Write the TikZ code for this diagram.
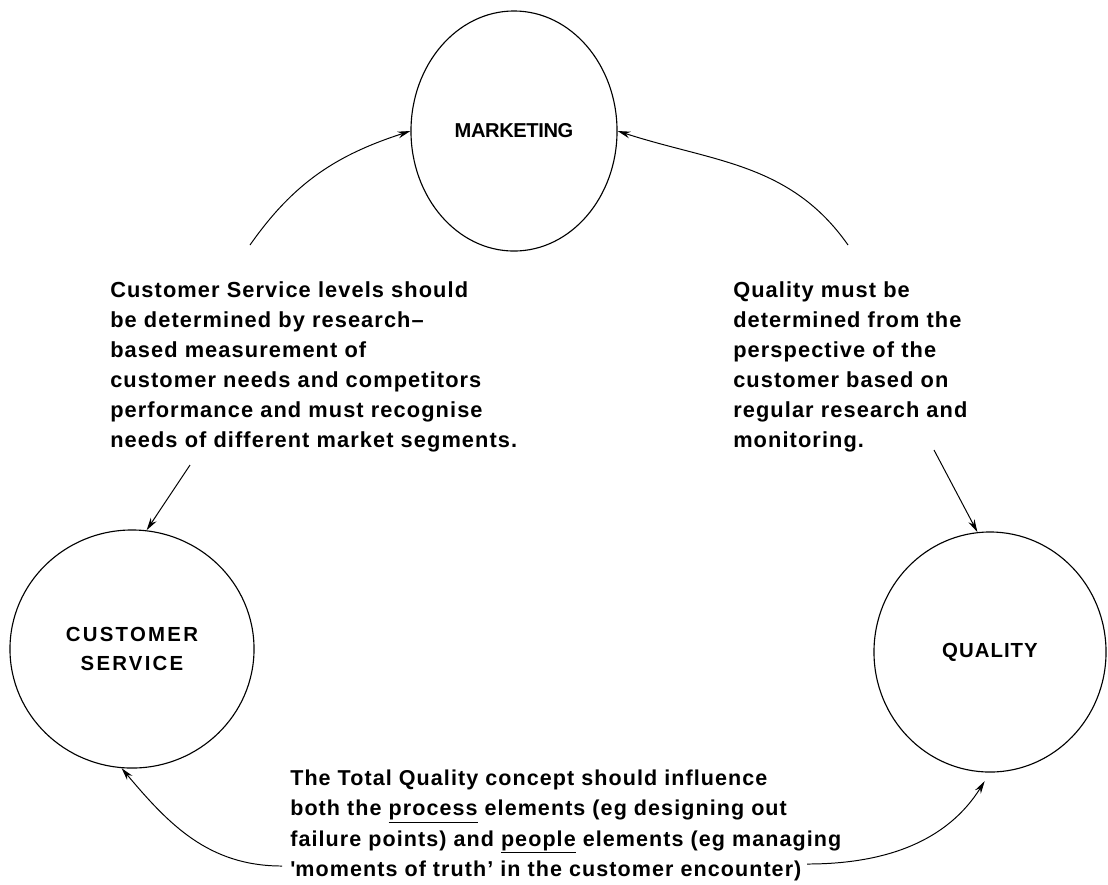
\documentclass[tikz,border=0pt]{standalone}
\usepackage{fontspec}
\setmainfont{Liberation Sans}
\newfontfamily\notefont[LetterSpace=5]{Liberation Sans Bold}
\usetikzlibrary{arrows.meta, positioning, shapes.geometric}

\begin{document}
\begin{tikzpicture}[x=0.025cm, y=0.025cm,
			topic/.style={ellipse, draw, line width=0.8pt, inner sep=0pt, align=center, font=\notefont\fontsize{14.5}{20}\selectfont},
			note/.style={anchor=north west, inner sep=0pt, align=left, font=\notefont\fontsize{15.5}{21.4}\selectfont},
			arrow/.style={-{Stealth[length=3.2mm, width=1.7mm]}, line width=0.7pt}
		]
		\useasboundingbox (0,0) rectangle (1108,-884);
		
		% the three circles
		\node[topic, minimum width=5.15cm, minimum height=6cm, font=\notefont\fontsize{14.3}{20}\selectfont\addfontfeature{LetterSpace=-2}] (mkt) at (514,-131) {MARKETING};
		\node[topic, minimum width=6.1cm, minimum height=5.95cm, font=\notefont\fontsize{14.5}{20}\selectfont\addfontfeature{LetterSpace=11}] (cs) at (132,-649) {CUSTOMER\\SERVICE};
		\node[topic, minimum width=5.8cm, minimum height=6cm] (ql) at (990,-652) {QUALITY};
		
		% notes between them
		\node[note] (cstext) at (110,-281) {Customer Service levels should\\be determined by research\textendash\\based measurement of\\customer needs and competitors\\performance and must recognise\\needs of different market segments.};
		\node[note] (qltext) at (733,-281) {Quality must be\\determined from the\\perspective of the\\customer based on\\regular research and\\monitoring.};
		\node[note, font=\notefont\fontsize{15.3}{21.4}\selectfont] (tqtext) at (290,-770) {The Total Quality concept should influence\\both the \underline{process} elements (eg designing out\\failure points) and \underline{people} elements (eg managing\\\textquotesingle moments of truth’ in the customer encounter)};
		
		% loose ends of the connectors
		\coordinate (csup) at (250,-245);
		\coordinate (qlup) at (848,-245);
		\coordinate (csdown) at (190,-465);
		\coordinate (qldown) at (934,-450);
		\coordinate (tqleft) at (282,-866);
		\coordinate (tqright) at (807,-864);
		
		\draw[arrow] (csup) to[out=55, in=198] (mkt.west);
		\draw[arrow] (qlup) to[out=125, in=-18] (mkt.east);
		\draw[arrow] (csdown) -- (cs.83);
		\draw[arrow] (qldown) -- (ql.96);
		\draw[arrow] (tqleft) to[out=180, in=-50] (cs.265);
		\draw[arrow, shorten >=2.5mm] (tqright) to[out=0, in=238] (ql.south);
		\end{tikzpicture}
\end{document}
